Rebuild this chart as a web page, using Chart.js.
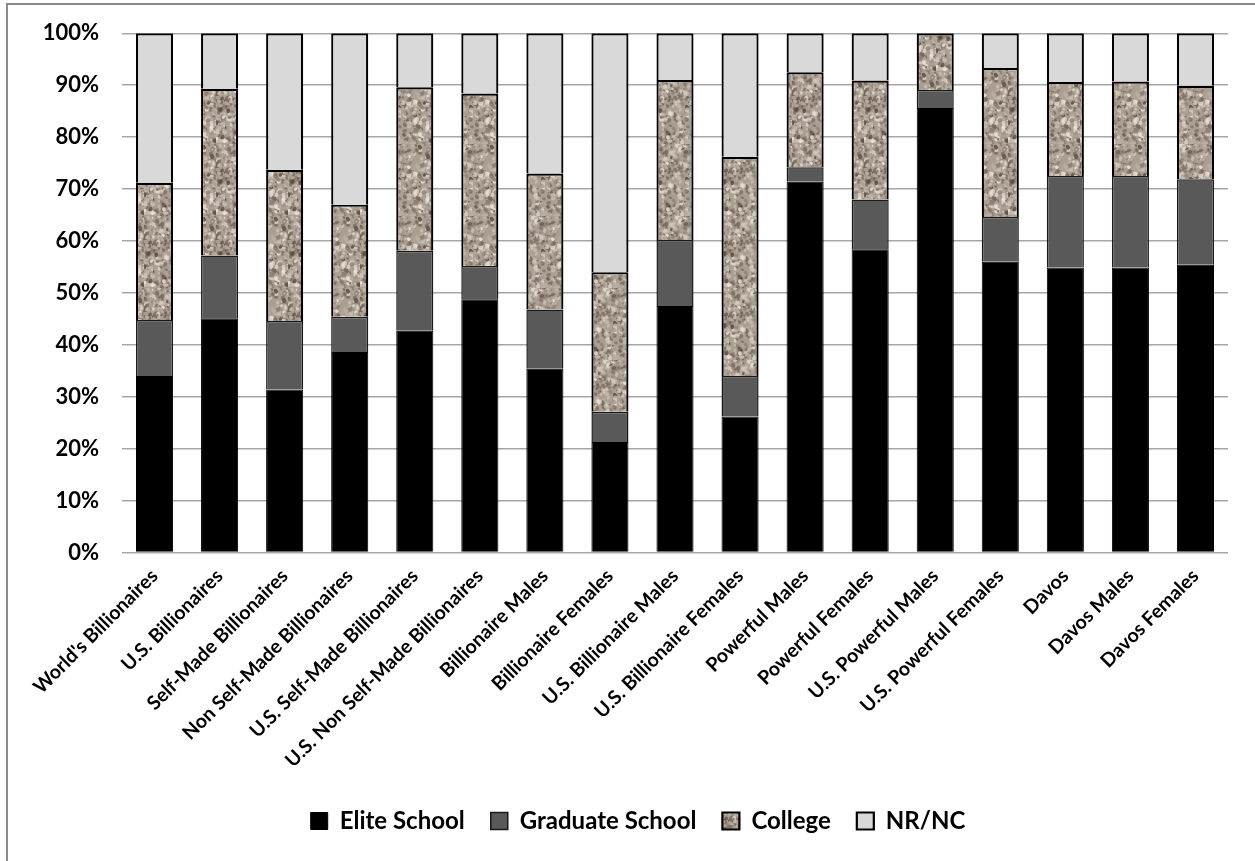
<!DOCTYPE html>
<html>
<head>
<meta charset="utf-8">
<title>Education of billionaires and powerful people</title>
<script src="https://cdn.jsdelivr.net/npm/chart.js@4.4.1/dist/chart.umd.min.js"></script>
<style>
  html, body { margin: 0; padding: 0; background: #ffffff; }
  #wrap { width: 1255px; height: 861px; }
</style>
</head>
<body>
<div id="wrap"><canvas id="chart" width="1255" height="861"></canvas></div>
<script>
// Groups shown along the x axis
const categories = [
  "World's Billionaires", "U.S. Billionaires", "Self-Made Billionaires",
  "Non Self-Made Billionaires", "U.S. Self-Made Billionaires",
  "U.S. Non Self-Made Billionaires", "Billionaire Males", "Billionaire Females",
  "U.S. Billionaire Males", "U.S. Billionaire Females", "Powerful Males",
  "Powerful Females", "U.S. Powerful Males", "U.S. Powerful Females",
  "Davos", "Davos Males", "Davos Females"
];

// Share of each group (percent) by highest education
const eliteSchool    = [34.0, 45.1, 31.4, 38.6, 42.7, 48.8, 35.4, 21.3, 47.5, 26.2, 71.4, 58.4, 85.6, 56.0, 54.9, 54.9, 55.4];
const graduateSchool = [10.8, 12.1, 13.2,  6.8, 15.4,  6.4, 11.4,  5.8, 12.7,  7.8,  2.8,  9.6,  3.5,  8.6, 17.6, 17.6, 16.5];
const college        = [26.4, 32.1, 29.1, 21.6, 31.5, 33.2, 26.2, 26.9, 30.8, 42.2, 18.3, 22.9, 10.9, 28.7, 18.1, 18.2, 18.0];
const nrNc           = [28.8, 10.7, 26.3, 33.0, 10.4, 11.6, 27.0, 46.0,  9.0, 23.8,  7.5,  9.1,  0.0,  6.7,  9.4,  9.3, 10.1];

const seriesNames = ["Elite School", "Graduate School", "College", "NR/NC"];
const yTickValues = [0, 10, 20, 30, 40, 50, 60, 70, 80, 90, 100];

// Soft speckled "granite" fill for the College segments
function makeGranite() {
  const size = 72;
  const tile = document.createElement('canvas');
  tile.width = size; tile.height = size;
  const g = tile.getContext('2d');
  g.fillStyle = '#ab9f92';
  g.fillRect(0, 0, size, size);
  let seed = 20240611;
  const next = () => {
    seed = (seed * 1664525 + 1013904223) >>> 0;
    return seed / 4294967296;
  };
  const tones = ['#6f6052', '#8d7f71', '#c9bfb3', '#e2dbd2', '#584a3e', '#b9ada1', '#f1ece6'];
  for (let i = 0; i < 700; i++) {
    const x = next() * size, y = next() * size;
    const r = 0.7 + next() * 1.5;
    g.fillStyle = tones[Math.floor(next() * tones.length)];
    g.globalAlpha = 0.35 + next() * 0.45;
    g.beginPath();
    g.ellipse(x, y, r * 1.3, r, next() * Math.PI, 0, Math.PI * 2);
    g.fill();
  }
  g.globalAlpha = 1;
  return g.createPattern(tile, 'repeat');
}

const ctx = document.getElementById('chart').getContext('2d');
const granite = makeGranite();

// Grey frame along the left and top edges of the chart
const framePlugin = {
  id: 'frame',
  beforeDraw(chart) {
    const c = chart.ctx;
    c.save();
    c.fillStyle = '#ffffff';
    c.fillRect(0, 0, chart.width, chart.height);
    c.strokeStyle = '#8c8c8c';
    c.lineWidth = 2;
    c.beginPath();
    c.moveTo(7, chart.height + 2);
    c.lineTo(7, 4);
    c.lineTo(chart.width + 2, 4);
    c.stroke();
    c.restore();
  }
};

// Nudge the legend row a little to the right of the canvas centre
const legendShift = {
  id: 'legendShift',
  afterLayout(chart) {
    if (chart.legend) {
      chart.legend.left += 10;
      chart.legend.right += 10;
    }
  }
};

const barStyle = { barPercentage: 0.57, categoryPercentage: 1.0, borderSkipped: 'start' };

new Chart(ctx, {
  type: 'bar',
  data: {
    labels: categories,
    datasets: [
      Object.assign({ label: seriesNames[0], data: eliteSchool, backgroundColor: '#000000', borderColor: '#000000', borderWidth: 1 }, barStyle),
      Object.assign({ label: seriesNames[1], data: graduateSchool, backgroundColor: '#595959', borderColor: '#1a1a1a', borderWidth: 1.5 }, barStyle),
      Object.assign({ label: seriesNames[2], data: college, backgroundColor: granite, borderColor: '#000000', borderWidth: 2.2 }, barStyle),
      Object.assign({ label: seriesNames[3], data: nrNc, backgroundColor: '#d9d9d9', borderColor: '#000000', borderWidth: 2.2 }, barStyle)
    ]
  },
  options: {
    responsive: false,
    animation: false,
    layout: { padding: { left: 28, right: 27, top: 33.3, bottom: 18 } },
    plugins: {
      tooltip: { enabled: false },
      legend: {
        position: 'bottom',
        labels: {
          boxWidth: 17,
          boxHeight: 17,
          padding: 26,
          color: '#000000',
          font: { family: 'Lato', weight: 'bold', size: 24 }
        }
      }
    },
    scales: {
      x: {
        stacked: true,
        grid: { display: false },
        border: { display: false },
        ticks: {
          autoSkip: false,
          maxRotation: 45,
          minRotation: 45,
          padding: 4,
          color: '#000000',
          font: { family: 'Lato', weight: 'bold', size: 19.5 }
        },
        afterFit(scale) { scale.height = 230.5; }
      },
      y: {
        stacked: true,
        min: 0,
        max: 100,
        afterBuildTicks(scale) { scale.ticks = yTickValues.map(v => ({ value: v })); },
        ticks: {
          padding: 23,
          color: '#000000',
          font: { family: 'Lato', weight: 'bold', size: 22, lineHeight: 0.9 },
          callback: v => v + '%'
        },
        grid: { color: '#a6a6a6', lineWidth: 1.5, drawTicks: false },
        border: { display: false },
        afterFit(scale) { scale.width = 94; }
      }
    }
  },
  plugins: [framePlugin, legendShift]
});
</script>
</body>
</html>
